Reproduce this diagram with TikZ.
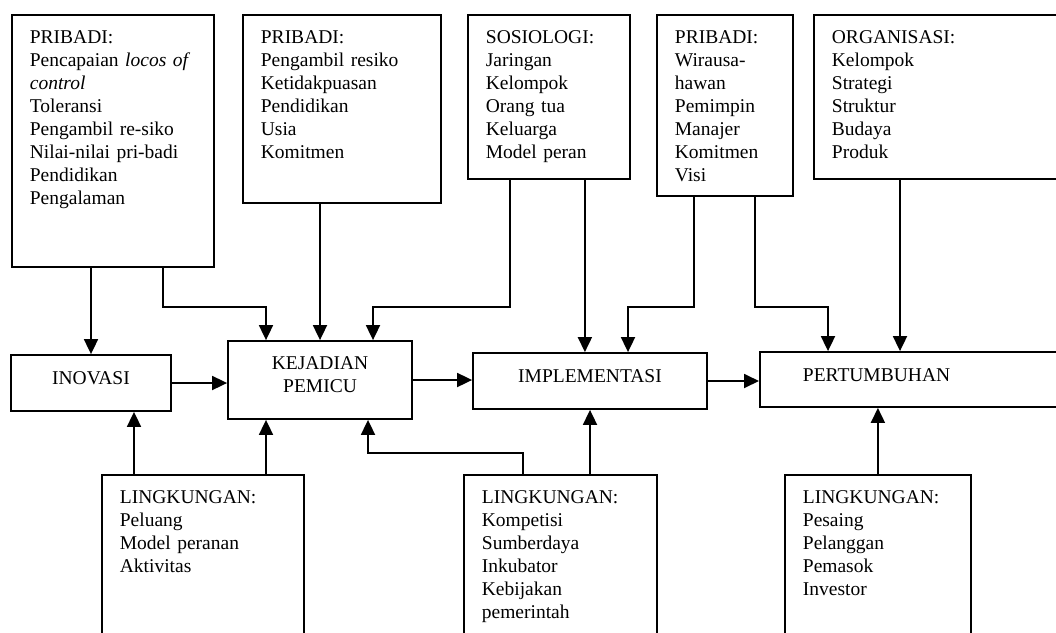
\documentclass[tikz,border=0pt]{standalone}
\usepackage{fontspec}
\setmainfont{Liberation Serif}
\usetikzlibrary{positioning,arrows.meta,calc}

\begin{document}
\begin{tikzpicture}[
    x=1pt, y=-1pt,
    font=\fontsize{19.5}{23}\selectfont,
    infobox/.style={rectangle, draw=black, line width=1.8pt, anchor=north west, align=left,
        inner xsep=18pt, inner ysep=0pt, text height=29pt},
    stagebox/.style={rectangle, draw=black, line width=1.8pt, align=center, inner sep=0pt,
        text height=13pt, text depth=10pt},
    arrow/.style={-{Triangle[length=15pt,width=14pt]}, line width=1.8pt}
]
    \useasboundingbox (0,0) rectangle (1056,632);
    \clip (0,0) rectangle (1056,632);

    % factor boxes on top
    \node[infobox, text width=166pt, text depth=223pt] (pribadiA) at (11,14) {
        PRIBADI:\\
        Pencapaian \textit{locos of}\\
        \textit{control}\\
        Toleransi\\
        Pengambil re-siko\\
        Nilai-nilai pri-badi\\
        Pendidikan\\
        Pengalaman
    };
    \node[infobox, text width=162pt, text depth=159pt] (pribadiB) at (242,14) {
        PRIBADI:\\
        Pengambil resiko\\
        Ketidakpuasan\\
        Pendidikan\\
        Usia\\
        Komitmen
    };
    \node[infobox, text width=126pt, text depth=135pt] (sosiologi) at (467,14) {
        SOSIOLOGI:\\
        Jaringan\\
        Kelompok\\
        Orang tua\\
        Keluarga\\
        Model peran
    };
    \node[infobox, text width=100pt, text depth=152pt] (pribadiC) at (656,14) {
        PRIBADI:\\
        Wirausa-\\
        hawan\\
        Pemimpin\\
        Manajer\\
        Komitmen\\
        Visi
    };
    \node[infobox, text width=221pt, text depth=135pt] (organisasi) at (813,14) {
        ORGANISASI:\\
        Kelompok\\
        Strategi\\
        Struktur\\
        Budaya\\
        Produk
    };

    % stages
    \node[stagebox, minimum width=160pt, minimum height=56pt] (inovasi) at (91,383) {INOVASI};
    \node[stagebox, text width=170pt, text depth=34pt, minimum width=184pt, minimum height=78pt] (kejadian) at (320,380) {KEJADIAN\\PEMICU};
    \node[stagebox, minimum width=234pt, minimum height=56pt] (implementasi) at (590,381) {IMPLEMENTASI};
    \node[stagebox, anchor=west, align=left, text width=311pt, minimum height=55pt] (pertumbuhan) at (759,379.5) {\hspace*{43pt}PERTUMBUHAN};

    % environment boxes at the bottom
    \node[infobox, text width=166pt, text depth=151pt] (lingA) at (101,474) {
        LINGKUNGAN:\\
        Peluang\\
        Model peranan\\
        Aktivitas
    };
    \node[infobox, text width=157pt, text depth=151pt] (lingB) at (463,474) {
        LINGKUNGAN:\\
        Kompetisi\\
        Sumberdaya\\
        Inkubator\\
        Kebijakan\\
        pemerintah
    };
    \node[infobox, text width=150pt, text depth=151pt] (lingC) at (784,474) {
        LINGKUNGAN:\\
        Pesaing\\
        Pelanggan\\
        Pemasok\\
        Investor
    };

    % connector points
    \coordinate (busTop) at (0,307);
    \coordinate (busBot) at (0,453);
    \coordinate (pA2) at ([xshift=50pt]pribadiA.south);
    \coordinate (soL) at ([xshift=-39pt]sosiologi.south);
    \coordinate (soR) at ([xshift=36pt]sosiologi.south);
    \coordinate (pcL) at ([xshift=-31pt]pribadiC.south);
    \coordinate (pcR) at ([xshift=30pt]pribadiC.south);
    \coordinate (kjL) at ([xshift=-54pt]kejadian.north);
    \coordinate (kjR) at ([xshift=53pt]kejadian.north);
    \coordinate (kjBL) at ([xshift=-54pt]kejadian.south);
    \coordinate (kjBR) at ([xshift=48pt]kejadian.south);
    \coordinate (imR) at ([xshift=38pt]implementasi.north);
    \coordinate (ptL) at (828,0);
    \coordinate (ptR) at (900,0);
    \coordinate (inB) at ([xshift=43pt]inovasi.south);
    \coordinate (lbL) at ([xshift=-37.5pt]lingB.north);

    % top arrows
    \draw[arrow] (inovasi.north |- pribadiA.south) -- (inovasi.north);
    \draw[arrow] (pA2) |- (kjL |- busTop) -- (kjL);
    \draw[arrow] (kejadian.north |- pribadiB.south) -- (kejadian.north);
    \draw[arrow] (soL) |- (kjR |- busTop) -- (kjR);
    \draw[arrow] (soR) -- (soR |- implementasi.north);
    \draw[arrow] (pcL) |- (imR |- busTop) -- (imR);
    \draw[arrow] (pcR) |- (ptL |- busTop) -- (ptL |- pertumbuhan.north);
    \draw[arrow] (ptR |- organisasi.south) -- (ptR |- pertumbuhan.north);

    % flow of stages
    \draw[arrow] (inovasi.east) -- (inovasi.east -| kejadian.west);
    \draw[arrow] (kejadian.east) -- (kejadian.east -| implementasi.west);
    \draw[arrow] (implementasi.east) -- (implementasi.east -| pertumbuhan.west);

    % bottom arrows
    \draw[arrow] (inB |- lingA.north) -- (inB);
    \draw[arrow] (kjBL |- lingA.north) -- (kjBL);
    \draw[arrow] (lbL) |- (kjBR |- busBot) -- (kjBR);
    \draw[arrow] (implementasi.south |- lingB.north) -- (implementasi.south);
    \draw[arrow] (lingC.north) -- (lingC.north |- pertumbuhan.south);
\end{tikzpicture}
\end{document}
